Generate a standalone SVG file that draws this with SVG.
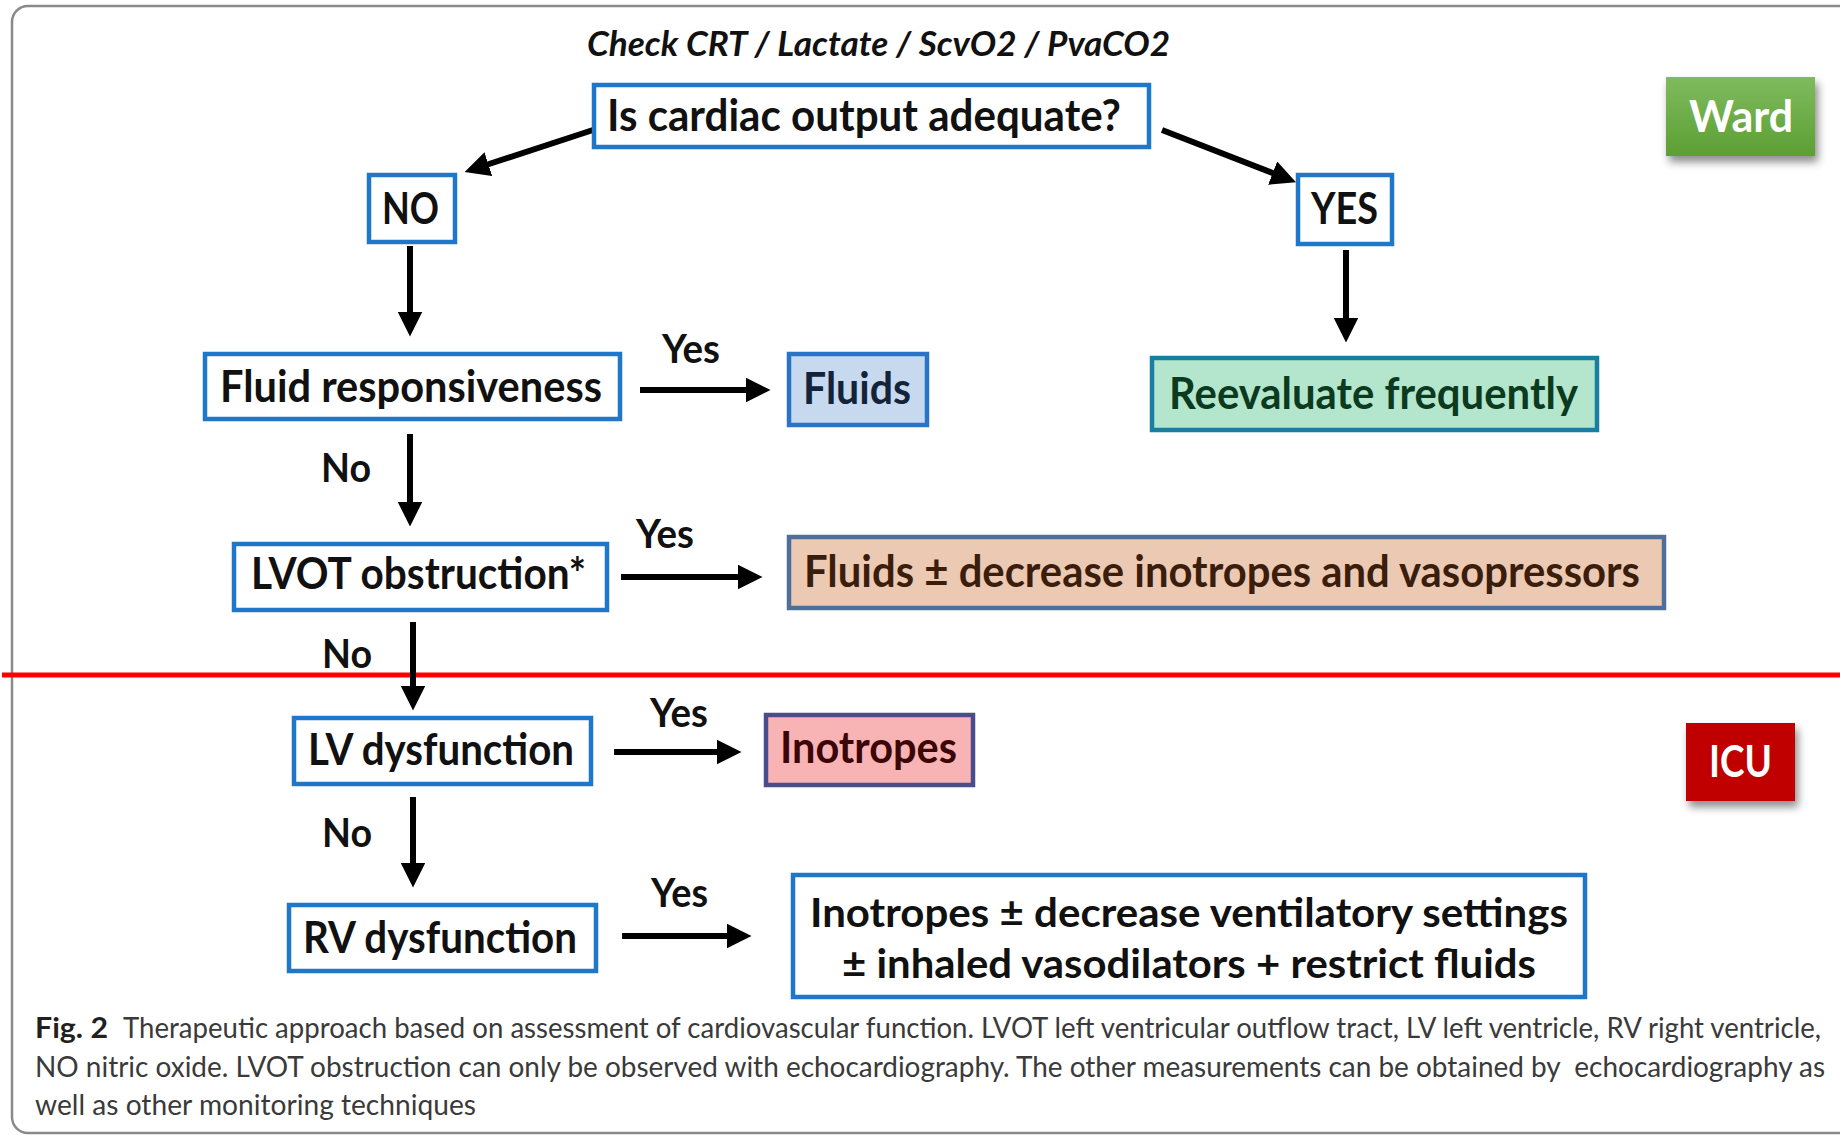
<svg xmlns="http://www.w3.org/2000/svg" width="1840" height="1137" viewBox="0 0 1840 1137">
<defs>
<style>
.box{fill:#ffffff;stroke:#1f77c9;stroke-width:4.5}
.lbl{font-family:Lato,"Noto Sans","Liberation Sans",sans-serif;font-weight:bold;font-size:43px;fill:#111111}
.yn{font-family:Lato,"Noto Sans","Liberation Sans",sans-serif;font-weight:bold;font-size:40px;fill:#111111}
.title{font-family:Lato,"Noto Sans","Liberation Sans",sans-serif;font-weight:bold;font-style:italic;font-size:34px;fill:#111111}
.cap{font-family:Lato,"Liberation Sans",sans-serif;font-size:28px;fill:#3a3a3a}
.capb{font-family:Lato,"Liberation Sans",sans-serif;font-weight:bold;font-size:28px;fill:#231f20}
.conn line{stroke:#000000;stroke-width:6;marker-end:url(#ah)}
</style>
<marker id="ah" viewBox="0 0 10 10" refX="1" refY="5" markerWidth="25" markerHeight="25" markerUnits="userSpaceOnUse" orient="auto">
<path d="M0,0 L10,5 L0,10 z" fill="#000000"/>
</marker>
<linearGradient id="gw" x1="0" y1="0" x2="0" y2="1">
<stop offset="0" stop-color="#7fbb5e"/>
<stop offset="1" stop-color="#5c9f33"/>
</linearGradient>
<filter id="sh" x="-20%" y="-20%" width="150%" height="160%">
<feDropShadow dx="3" dy="6" stdDeviation="4" flood-color="#000000" flood-opacity="0.45"/>
</filter>
</defs>
<rect width="1840" height="1137" fill="#ffffff"/>
<rect x="12" y="6" width="1860" height="1127" rx="16" fill="none" stroke="#8a8a8a" stroke-width="2.5"/>

<line x1="2" y1="675" x2="1840" y2="675" stroke="#ff0000" stroke-width="5"/>

<text class="title" x="587" y="56" textLength="583" lengthAdjust="spacingAndGlyphs">Check CRT / Lactate / ScvO2 / PvaCO2</text>

<g id="connectors" class="conn">
<line x1="593" y1="130" x2="486" y2="165"/>
<line x1="1162" y1="130" x2="1275" y2="174"/>
<line x1="410" y1="246" x2="410" y2="314"/>
<line x1="1346" y1="250" x2="1346" y2="320"/>
<line x1="640" y1="390" x2="748" y2="390"/>
<line x1="410" y1="434" x2="410" y2="504"/>
<line x1="621" y1="577" x2="740" y2="577"/>
<line x1="413" y1="622" x2="413" y2="688"/>
<line x1="614" y1="752" x2="719" y2="752"/>
<line x1="413" y1="797" x2="413" y2="865"/>
<line x1="622" y1="936" x2="729" y2="936"/>
</g>

<g id="labels">
<text class="yn" x="662" y="363" textLength="58" lengthAdjust="spacingAndGlyphs">Yes</text>
<text class="yn" x="321" y="482" textLength="50" lengthAdjust="spacingAndGlyphs">No</text>
<text class="yn" x="636" y="548" textLength="58" lengthAdjust="spacingAndGlyphs">Yes</text>
<text class="yn" x="322" y="668" textLength="50" lengthAdjust="spacingAndGlyphs">No</text>
<text class="yn" x="650" y="727" textLength="58" lengthAdjust="spacingAndGlyphs">Yes</text>
<text class="yn" x="322" y="847" textLength="50" lengthAdjust="spacingAndGlyphs">No</text>
<text class="yn" x="651" y="907" textLength="57" lengthAdjust="spacingAndGlyphs">Yes</text>
</g>

<g id="question">
<rect class="box" x="594" y="85" width="555" height="62"/>
<text class="lbl" x="607" y="131" textLength="514" lengthAdjust="spacingAndGlyphs">Is cardiac output adequate?</text>
</g>
<g id="no">
<rect class="box" x="369" y="175" width="86" height="67"/>
<text class="lbl" x="382" y="224" textLength="57" lengthAdjust="spacingAndGlyphs">NO</text>
</g>
<g id="yes">
<rect class="box" x="1298" y="175" width="94" height="69"/>
<text class="lbl" x="1311" y="224" textLength="67" lengthAdjust="spacingAndGlyphs">YES</text>
</g>
<g id="ward">
<rect x="1666" y="77" width="149" height="79" fill="url(#gw)" filter="url(#sh)"/>
<text class="lbl" x="1689" y="132" textLength="104" lengthAdjust="spacingAndGlyphs" style="fill:#ffffff">Ward</text>
</g>
<g id="fluid-responsiveness">
<rect class="box" x="205" y="354" width="415" height="65"/>
<text class="lbl" x="220" y="402" textLength="382" lengthAdjust="spacingAndGlyphs">Fluid responsiveness</text>
</g>
<g id="fluids">
<rect class="box" x="789" y="354" width="138" height="71" style="fill:#c6d9ee;stroke:#2a74c6"/>
<text class="lbl" x="803" y="404" textLength="108" lengthAdjust="spacingAndGlyphs" style="fill:#13233a">Fluids</text>
</g>
<g id="reevaluate">
<rect class="box" x="1152" y="358" width="445" height="72" style="fill:#b3e6cc;stroke:#187ea4"/>
<text class="lbl" x="1169" y="409" textLength="409" lengthAdjust="spacingAndGlyphs" style="fill:#0b3a1e">Reevaluate frequently</text>
</g>
<g id="lvot">
<rect class="box" x="234" y="544" width="373" height="66"/>
<text class="lbl" x="251" y="589" textLength="335" lengthAdjust="spacingAndGlyphs">LVOT obstruction*</text>
</g>
<g id="fluids-decrease">
<rect class="box" x="789" y="537" width="875" height="71" style="fill:#ecc9b3;stroke:#4d6f9a"/>
<text class="lbl" x="804" y="587" textLength="836" lengthAdjust="spacingAndGlyphs" style="fill:#3b1d0c">Fluids ± decrease inotropes and vasopressors</text>
</g>
<g id="lv">
<rect class="box" x="294" y="718" width="297" height="66"/>
<text class="lbl" x="308" y="765" textLength="266" lengthAdjust="spacingAndGlyphs">LV dysfunction</text>
</g>
<g id="inotropes">
<rect class="box" x="766" y="715" width="207" height="70" style="fill:#f8b4b4;stroke:#4a4c8c"/>
<text class="lbl" x="780" y="763" textLength="177" lengthAdjust="spacingAndGlyphs" style="fill:#3c0606">Inotropes</text>
</g>
<g id="icu">
<rect x="1686" y="723" width="109" height="78" fill="#c00000" filter="url(#sh)"/>
<text class="lbl" x="1709" y="777" textLength="63" lengthAdjust="spacingAndGlyphs" style="fill:#ffffff">ICU</text>
</g>
<g id="rv">
<rect class="box" x="289" y="905" width="307" height="66"/>
<text class="lbl" x="303" y="953" textLength="274" lengthAdjust="spacingAndGlyphs">RV dysfunction</text>
</g>
<g id="rv-treatment">
<rect class="box" x="793" y="875" width="792" height="122"/>
<text class="lbl" x="810" y="927" textLength="758" lengthAdjust="spacingAndGlyphs" style="font-size:40px">Inotropes ± decrease ventilatory settings</text>
<text class="lbl" x="842" y="978" textLength="694" lengthAdjust="spacingAndGlyphs" style="font-size:40px">± inhaled vasodilators + restrict fluids</text>
</g>

<g id="caption">
<text class="capb" x="35" y="1038" textLength="73" lengthAdjust="spacingAndGlyphs">Fig. 2</text>
<text class="cap" x="123" y="1038" textLength="1698" lengthAdjust="spacingAndGlyphs">Therapeutic approach based on assessment of cardiovascular function. LVOT left ventricular outflow tract, LV left ventricle, RV right ventricle,</text>
<text class="cap" x="35" y="1077" textLength="1790" lengthAdjust="spacingAndGlyphs">NO nitric oxide. LVOT obstruction can only be observed with echocardiography. The other measurements can be obtained by&#160; echocardiography as</text>
<text class="cap" x="35" y="1115" textLength="441" lengthAdjust="spacingAndGlyphs">well as other monitoring techniques</text>
</g>
</svg>
